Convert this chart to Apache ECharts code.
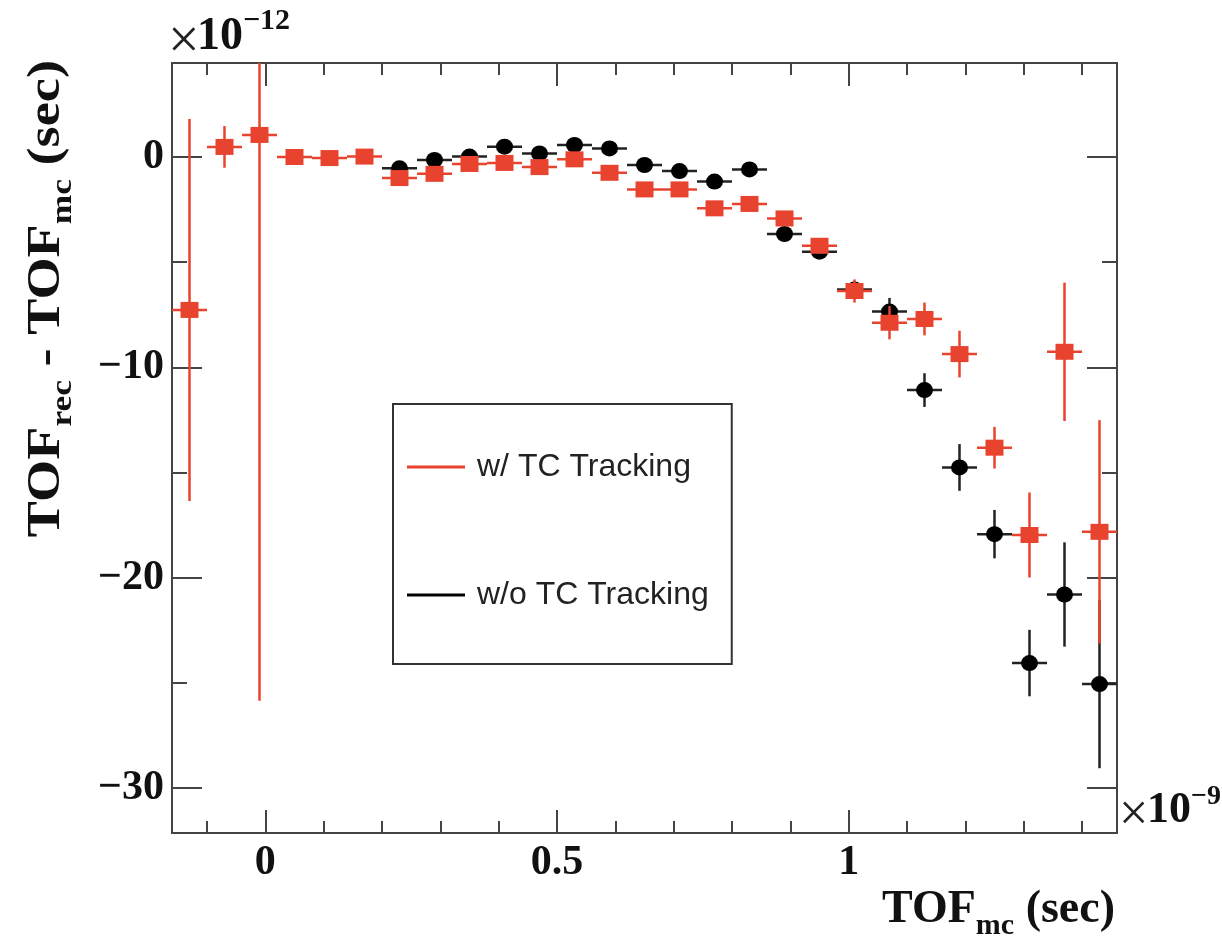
<!DOCTYPE html>
<html>
<head>
<meta charset="utf-8">
<script src="https://cdn.jsdelivr.net/npm/echarts@6/dist/echarts.min.js"></script>
<style>html,body{margin:0;padding:0;background:#fff}#c{width:1222px;height:937px}</style>
</head>
<body>
<div id="c"></div>
<script>
// ---- data ----
const binCenters = [-0.13, -0.07, -0.01, 0.05, 0.11, 0.17, 0.23, 0.29, 0.35, 0.41, 0.47, 0.53, 0.59, 0.65, 0.71, 0.77, 0.83, 0.89, 0.95, 1.01, 1.07, 1.13, 1.19, 1.25, 1.31, 1.37, 1.43];
const binHalfWidth = 0.03;
const withTC =      [-7.27, 0.48, 1.05, 0.0, -0.05, 0.02, -1.0, -0.8, -0.33, -0.28, -0.48, -0.11, -0.75, -1.54, -1.54, -2.44, -2.23, -2.92, -4.22, -6.37, -7.88, -7.70, -9.37, -13.82, -17.97, -9.26, -17.82];
const withTCErr =   [9.08, 0.99, 26.9, 0.2, 0.2, 0.2, 0.25, 0.25, 0.25, 0.25, 0.25, 0.25, 0.3, 0.3, 0.3, 0.3, 0.3, 0.35, 0.35, 0.55, 0.79, 0.78, 1.11, 0.99, 2.02, 3.29, 5.31];
const withoutTC =   [null, null, null, null, null, null, -0.54, -0.14, 0.02, 0.49, 0.17, 0.57, 0.41, -0.38, -0.67, -1.17, -0.59, -3.66, -4.5, -6.3, -7.35, -11.08, -14.76, -17.93, -24.06, -20.8, -25.06];
const withoutTCErr =[null, null, null, null, null, null, 0.2, 0.2, 0.2, 0.2, 0.2, 0.2, 0.2, 0.2, 0.2, 0.2, 0.2, 0.3, 0.3, 0.4, 0.65, 0.8, 1.11, 1.15, 1.58, 2.48, 4.0];
const xMajorTicks = [0, 0.5, 1];
const xMinorTicks = [-0.1, 0.1, 0.2, 0.3, 0.4, 0.6, 0.7, 0.8, 0.9, 1.1, 1.2, 1.3, 1.4];
const yMajorTicks = [-30, -20, -10, 0];
const yMinorTicks = [-25, -15, -5];
const xRange = [-0.16, 1.46];
const yRange = [-32.14, 4.47];
const nameWith = 'w/ TC Tracking';
const nameWithout = 'w/o TC Tracking';

// ---- styling ----
const RED = '#e8432e';
const BLACK = '#000000';
const FRAME = '#444444';
const SERIF = "'Liberation Serif', 'Times New Roman', serif";

function pts(vals, errs) {
  const out = [];
  binCenters.forEach((x, i) => { if (vals[i] !== null) out.push([x, vals[i], errs[i]]); });
  return out;
}

function errRender(color) {
  return function (params, api) {
    const x = api.value(0), y = api.value(1), e = api.value(2);
    const l = api.coord([x - binHalfWidth, y]);
    const r = api.coord([x + binHalfWidth, y]);
    const t = api.coord([x, y + e]);
    const b = api.coord([x, y - e]);
    const style = { stroke: color, lineWidth: 2.5 };
    return {
      type: 'group',
      children: [
        { type: 'line', shape: { x1: l[0], y1: l[1], x2: r[0], y2: r[1] }, style: style },
        { type: 'line', shape: { x1: t[0], y1: t[1], x2: b[0], y2: b[1] }, style: style }
      ]
    };
  };
}

const fmt = v => (v < 0 ? '\u2212' + Math.abs(v) : String(v));

function axisCommon(range, pos, ticks, len, label) {
  return {
    type: 'value', min: range[0], max: range[1], position: pos,
    axisLine: { show: false, onZero: false }, splitLine: { show: false },
    axisTick: { show: true, inside: true, length: len, customValues: ticks, lineStyle: { color: FRAME, width: 2 } },
    axisLabel: label ? Object.assign({ customValues: ticks, formatter: fmt }, label) : { show: false }
  };
}

const labelStyle = { fontFamily: SERIF, fontWeight: 'bold', fontSize: 42, color: '#111' };

const option = {
  animation: false,
  backgroundColor: '#fff',
  grid: { left: 172, right: 105, top: 63, bottom: 104, show: true, borderColor: FRAME, borderWidth: 2, backgroundColor: 'transparent', outerBoundsMode: 'none' },
  xAxis: [
    axisCommon(xRange, 'bottom', xMajorTicks, 23, Object.assign({ margin: 9 }, labelStyle)),
    axisCommon(xRange, 'bottom', xMinorTicks, 12, null),
    axisCommon(xRange, 'top', xMajorTicks, 23, null),
    axisCommon(xRange, 'top', xMinorTicks, 12, null)
  ],
  yAxis: [
    axisCommon(yRange, 'left', yMajorTicks, 30, Object.assign({ margin: 8 }, labelStyle)),
    axisCommon(yRange, 'left', yMinorTicks, 15, null),
    axisCommon(yRange, 'right', yMajorTicks, 30, null),
    axisCommon(yRange, 'right', yMinorTicks, 15, null)
  ],
  legend: {
    orient: 'vertical', left: 393, top: 404,
    data: [
      { name: nameWith, itemStyle: { color: RED, borderWidth: 0 } },
      { name: nameWithout, itemStyle: { color: BLACK, borderWidth: 0 } }
    ],
    icon: 'rect', itemWidth: 58, itemHeight: 3, itemGap: 92,
    padding: [45, 23, 51, 14],
    backgroundColor: '#fff', borderColor: '#333', borderWidth: 2, borderRadius: 0,
    selectedMode: false,
    textStyle: { fontFamily: "'Liberation Sans', Arial, sans-serif", fontSize: 32, color: '#222', lineHeight: 36, padding: [0, 0, 0, 7] }
  },
  series: [
    {
      name: nameWithout, type: 'custom', renderItem: errRender('#222'), clip: true,
      itemStyle: { color: BLACK }, encode: { x: 0, y: 1 }, data: pts(withoutTC, withoutTCErr), z: 2
    },
    {
      name: nameWithout, type: 'scatter', symbol: 'circle', symbolSize: [17, 16],
      itemStyle: { color: BLACK, opacity: 1 }, data: pts(withoutTC, withoutTCErr).map(p => [p[0], p[1]]), z: 3
    },
    {
      name: nameWith, type: 'custom', renderItem: errRender(RED), clip: true,
      itemStyle: { color: RED }, encode: { x: 0, y: 1 }, data: pts(withTC, withTCErr), z: 4
    },
    {
      name: nameWith, type: 'scatter', symbol: 'rect', symbolSize: [18, 16],
      itemStyle: { color: RED, opacity: 1 }, data: pts(withTC, withTCErr).map(p => [p[0], p[1]]), z: 5
    }
  ],
  graphic: [
    {
      type: 'text', x: 1115, y: 910,
      style: {
        text: '{b|TOF}{s|mc}{b| (sec)}', align: 'right', verticalAlign: 'middle', fill: '#111',
        rich: {
          b: { fontFamily: SERIF, fontWeight: 'bold', fontSize: 46, lineHeight: 46, verticalAlign: 'top' },
          s: { fontFamily: SERIF, fontWeight: 'bold', fontSize: 30, lineHeight: 30, padding: [24, 0, 0, 0], verticalAlign: 'top' }
        }
      }
    },
    {
      type: 'text', x: 47, y: 60, rotation: Math.PI / 2, scaleX: 1.18,
      style: {
        text: '{b|TOF}{s|rec}{b| - TOF}{s|mc}{b| (sec)}', align: 'right', verticalAlign: 'middle', fill: '#111',
        rich: {
          b: { fontFamily: SERIF, fontWeight: 'bold', fontSize: 46, lineHeight: 46, verticalAlign: 'top' },
          s: { fontFamily: SERIF, fontWeight: 'bold', fontSize: 30, lineHeight: 30, padding: [24, 0, 0, 0], verticalAlign: 'top' }
        }
      }
    },
    {
      type: 'text', x: 168, y: 43,
      style: { text: '\u00d7', align: 'left', verticalAlign: 'middle', fill: '#222', font: "56px 'Liberation Serif', serif" }
    },
    {
      type: 'text', x: 197, y: 60,
      style: {
        text: '{n|10}{e|\u221212}', align: 'left', verticalAlign: 'bottom', fill: '#111',
        rich: {
          n: { fontFamily: SERIF, fontWeight: 'bold', fontSize: 46, lineHeight: 46, verticalAlign: 'bottom' },
          e: { fontFamily: SERIF, fontWeight: 'bold', fontSize: 30, lineHeight: 30, padding: [0, 0, 24, 0], verticalAlign: 'bottom' }
        }
      }
    },
    {
      type: 'text', x: 1119, y: 816,
      style: { text: '\u00d7', align: 'left', verticalAlign: 'middle', fill: '#222', font: "52px 'Liberation Serif', serif" }
    },
    {
      type: 'text', x: 1147, y: 833,
      style: {
        text: '{n|10}{e|\u22129}', align: 'left', verticalAlign: 'bottom', fill: '#111',
        rich: {
          n: { fontFamily: SERIF, fontWeight: 'bold', fontSize: 44, lineHeight: 44, verticalAlign: 'bottom' },
          e: { fontFamily: SERIF, fontWeight: 'bold', fontSize: 28, lineHeight: 28, padding: [0, 0, 22, 0], verticalAlign: 'bottom' }
        }
      }
    }
  ]
};

const chart = echarts.init(document.getElementById('c'), null, { renderer: 'canvas' });
chart.setOption(option);
</script>
</body>
</html>
